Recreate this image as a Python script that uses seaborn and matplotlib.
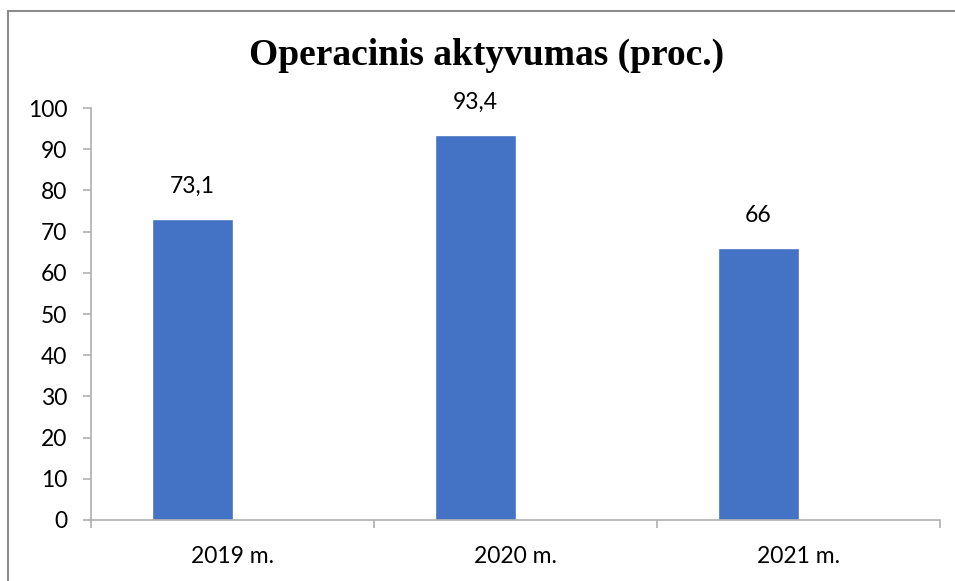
import matplotlib
matplotlib.use("Agg")
import matplotlib.pyplot as plt
import seaborn as sns
import pandas as pd
from matplotlib.patches import Rectangle

categories = ["2019 m.", "2020 m.", "2021 m."]
values = [73.1, 93.4, 66]
value_labels = ["73,1", "93,4", "66"]
title = "Operacinis aktyvumas (proc.)"
y_ticks = [0, 10, 20, 30, 40, 50, 60, 70, 80, 90, 100]

sns.set_theme(style="white")
plt.rcParams['font.family'] = ['Lato', 'DejaVu Sans']

df = pd.DataFrame({"year": categories, "value": values, "series": "Operacinis aktyvumas"})

fig = plt.figure(figsize=(9.55, 5.81), dpi=100)
ax = fig.add_axes([91/955, 1-520/581, (940-91)/955, (520-108)/581])

sns.barplot(data=df, x="year", y="value", hue="series",
            hue_order=["Operacinis aktyvumas", "_empty"],
            palette=["#4472C4", "#ED7D31"], width=0.57, dodge=True,
            legend=False, ax=ax, saturation=1)

for cont in ax.containers:
    if len(cont) == len(value_labels):
        ax.bar_label(cont, labels=value_labels, padding=16, fontsize=16.5, color="#000000")

ax.set_xlim(-0.5, 2.5)
ax.set_ylim(0, 100)
ax.set_yticks(y_ticks)
ax.set_xlabel("")
ax.set_ylabel("")
axis_col = "#b0b0b0"
for s in ["top", "right"]:
    ax.spines[s].set_visible(False)
for s in ["left", "bottom"]:
    ax.spines[s].set_visible(True)
    ax.spines[s].set_color(axis_col)
    ax.spines[s].set_linewidth(1.2)
ax.set_xticks([0, 1, 2])
ax.set_xticklabels(categories)
ax.set_xticks([-0.5, 0.5, 1.5, 2.5], minor=True)
ax.tick_params(axis="x", which="major", length=0, labelsize=16.5, pad=19, labelcolor="#000000")
ax.tick_params(axis="x", which="minor", length=6, width=1.2, color=axis_col, direction="out", bottom=True)
ax.tick_params(axis="y", which="major", length=6, width=1.2, color=axis_col, direction="out",
               labelsize=16.5, pad=11, left=True, labelcolor="#000000")

fig.text(487/955, 1-55/581, title, ha="center", va="center", fontsize=27,
         fontweight="bold", family=["Liberation Serif", "DejaVu Serif"], color="#000000")

fig.patches.append(Rectangle((8/955, -0.05), 1.2, 1-11/581+0.05, transform=fig.transFigure,
                             fill=False, edgecolor="#8c8c8c", linewidth=1.5))

fig.savefig("out.png", dpi=100)
